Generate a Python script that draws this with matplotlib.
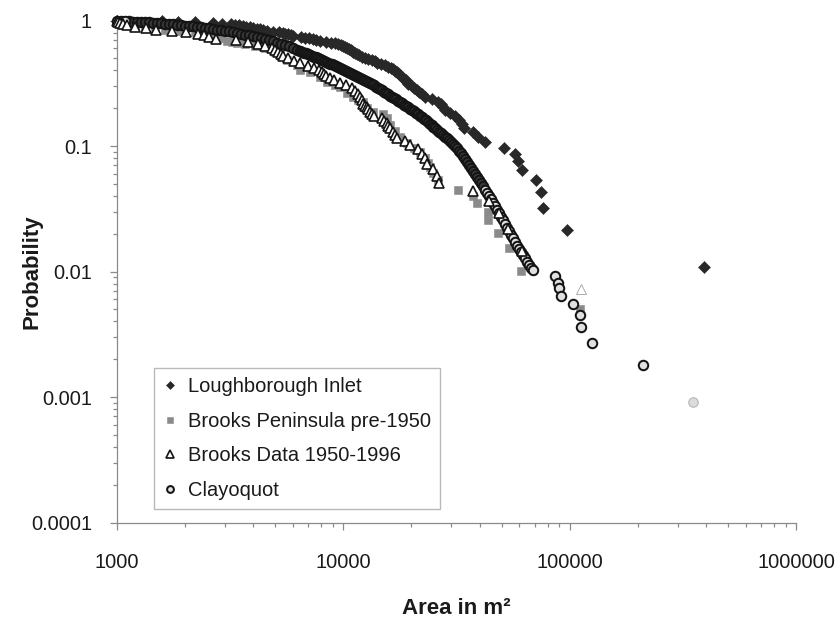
import matplotlib
matplotlib.use("Agg")
import matplotlib.pyplot as plt
from matplotlib.ticker import LogLocator, NullFormatter, FixedLocator, FixedFormatter

plt.rcParams['font.family'] = ['Liberation Sans', 'DejaVu Sans']

# ---------------- data (area in m^2, exceedance probability) ----------------
lough_area = [1000, 1580, 1860, 2210, 2652, 2907, 3187, 3319, 3457, 3600, 3711, 3866, 3986, 4147,
              4279, 4412, 4595, 4884, 5191, 5407, 5517, 5688, 5863, 5984, 6492, 6761, 7041, 7334,
              7560, 7874, 8368, 8805, 9171, 9455, 9748, 9949, 10150, 10358, 10571, 10789, 10899,
              11011, 11240, 11470, 11707, 12073, 12440, 12826, 13359, 13780, 14062, 14638, 15250,
              15723, 16214, 16548, 16880, 17226, 17580, 17760, 18124, 18497, 18881, 19073, 19261,
              20063, 20481, 21114, 21550, 22216, 22900, 24594, 26136, 26942, 27497, 28060, 29530,
              31070, 32360, 33350, 34036, 37302, 39250, 42150, 51127, 57180, 58953, 61382, 70785,
              74462, 75995, 96990, 390500]
lough_prob = [1.000, 0.989, 0.978, 0.968, 0.957, 0.946, 0.935, 0.925, 0.914, 0.903, 0.892, 0.882,
              0.871, 0.860, 0.849, 0.839, 0.828, 0.817, 0.806, 0.796, 0.785, 0.774, 0.763, 0.753,
              0.742, 0.731, 0.720, 0.710, 0.699, 0.688, 0.677, 0.667, 0.656, 0.645, 0.634, 0.624,
              0.613, 0.602, 0.591, 0.581, 0.570, 0.559, 0.548, 0.538, 0.527, 0.516, 0.505, 0.495,
              0.484, 0.473, 0.462, 0.452, 0.441, 0.430, 0.419, 0.409, 0.398, 0.387, 0.376, 0.366,
              0.355, 0.344, 0.333, 0.323, 0.312, 0.301, 0.290, 0.280, 0.269, 0.258, 0.247, 0.237,
              0.226, 0.215, 0.204, 0.194, 0.183, 0.172, 0.161, 0.151, 0.140, 0.129, 0.118, 0.108,
              0.0968, 0.0860, 0.0753, 0.0645, 0.0538, 0.0430, 0.0323, 0.0215, 0.0108]

pre1950_area = [1000, 1021, 1085, 1201, 1329, 1472, 1629, 1897, 2210, 2447, 2627, 2849, 3059, 3220,
                3387, 3674, 4068, 4503, 4984, 5244, 5630, 6232, 6426, 7112, 7874, 8454, 9171, 9650,
                10358, 11011, 11589, 12197, 12695, 13496, 14939, 15563, 16050, 16880, 17760, 19073,
                20476, 21770, 22900, 23610, 24100, 24847, 26136, 32033, 37302, 38850, 43457, 43457,
                48106, 53793, 60766, 110700]
pre1950_prob = [0.991, 0.973, 0.938, 0.904, 0.872, 0.856, 0.840, 0.825, 0.810, 0.781, 0.752, 0.726,
                0.687, 0.674, 0.662, 0.650, 0.626, 0.604, 0.561, 0.531, 0.4845, 0.442, 0.403, 0.389,
                0.354, 0.324, 0.306, 0.295, 0.264, 0.246, 0.233, 0.224, 0.201, 0.187, 0.180, 0.167,
                0.147, 0.131, 0.118, 0.1056, 0.0964, 0.0902, 0.0803, 0.0732, 0.0683, 0.0610, 0.0536,
                0.0446, 0.0403, 0.0351, 0.0298, 0.0257, 0.0203, 0.0154, 0.0101, 0.00503]

brooks_area = [1000, 1010, 1031, 1063, 1108, 1201, 1343, 1487, 1749, 2016, 2278, 2422, 2547, 2736,
               3353, 3788, 4194, 4503, 4835, 4984, 5139, 5297, 5407, 5688, 6046, 6426, 6969, 7407,
               7794, 8033, 8197, 8365, 8712, 9072, 9642, 10247, 10890, 11240, 11573, 11811, 12053,
               12197, 12440, 12695, 12810, 13072, 13340, 13614, 14765, 15068, 15563, 15692, 16013,
               16548, 16880, 17226, 18690, 19617, 21276, 22157, 22900, 23311, 24847, 25869, 26597,
               37302, 43899, 48598, 53251, 61382, 111800]
brooks_prob = [1.0, 0.978, 0.957, 0.935, 0.913, 0.891, 0.870, 0.848, 0.826, 0.804, 0.783, 0.761,
               0.739, 0.717, 0.696, 0.674, 0.652, 0.630, 0.609, 0.587, 0.565, 0.543, 0.522, 0.500,
               0.478, 0.457, 0.435, 0.420, 0.406, 0.391, 0.377, 0.362, 0.348, 0.333, 0.319, 0.304,
               0.290, 0.275, 0.261, 0.246, 0.232, 0.217, 0.210, 0.203, 0.196, 0.188, 0.181, 0.174,
               0.167, 0.159, 0.152, 0.145, 0.138, 0.130, 0.123, 0.116, 0.109, 0.101, 0.0942, 0.0870,
               0.0797, 0.0725, 0.0652, 0.0580, 0.0507, 0.0435, 0.0362, 0.0290, 0.0217, 0.0145,
               0.00725]

clay_area = [1000, 1041, 1085, 1130, 1176, 1225, 1276, 1329, 1384, 1441, 1501, 1564, 1629, 1696,
             1766, 1840, 1916, 1996, 2078, 2165, 2254, 2348, 2445, 2547, 2652, 2762, 2877, 2996,
             3120, 3250, 3384, 3525, 3671, 3823, 3982, 4147, 4319, 4498, 4685, 4879, 5082, 5292,
             5512, 5741, 5979, 6227,
             6426, 6558, 6692, 6829, 6969, 7112, 7258, 7407, 7558, 7713, 7871, 8033, 8197, 8365,
             8537, 8712, 8890, 9072, 9258, 9448, 9642, 9839, 10041, 10247, 10457, 10671, 10890,
             11113, 11341, 11573, 11811, 12053, 12300, 12552, 12810, 13072, 13340, 13614, 13893,
             14178, 14468, 14765, 15068, 15376, 15692, 16013, 16342, 16677, 17019, 17368, 17724,
             18087, 18458, 18836, 19223, 19617, 20019, 20429, 20848, 21276, 21712, 22157, 22611,
             23075, 23548, 24031, 24523, 25026, 25539, 26063, 26597, 27142, 27699, 28267, 28846,
             29438, 30041, 30657, 31286, 31927, 32582, 33250, 33931, 34627, 35337, 36061, 36801,
             37555, 38325, 39111, 39913, 40731, 41566, 42418, 43288, 44175, 45081, 46005, 46948,
             47911, 48893, 49895, 50918, 51962, 53027, 54114, 55224, 56356, 57511, 58690, 59893,
             61121, 62374, 63653, 64958, 66289, 67648, 68660,
             85900, 88500, 89400, 91200, 103000, 110700, 111900, 125100, 210000, 349000]
clay_prob = [1.0, 0.9882, 0.9854, 0.9827, 0.9791, 0.9755, 0.9720, 0.9684, 0.9648, 0.9604, 0.9552,
             0.9499, 0.9447, 0.9395, 0.9327, 0.9258, 0.9191, 0.9124, 0.9058, 0.8975, 0.8892,
             0.8811, 0.8731, 0.8651, 0.8556, 0.8478, 0.8384, 0.8293, 0.8202, 0.8083, 0.7965,
             0.7850, 0.7736, 0.7624, 0.7499, 0.7363, 0.7229, 0.7096, 0.6966, 0.6815, 0.6666,
             0.6523, 0.6381, 0.6242, 0.6044, 0.5848,
             0.5715, 0.5631, 0.5549, 0.5468, 0.5389, 0.5310, 0.5233, 0.5157, 0.5082, 0.5007,
             0.4934, 0.4854, 0.4775, 0.4696, 0.4619, 0.4544, 0.4469, 0.4395, 0.4324, 0.4253,
             0.4183, 0.4115, 0.4048, 0.3981, 0.3916, 0.3852, 0.3782, 0.3713, 0.3645, 0.3579,
             0.3514, 0.3444, 0.3375, 0.3308, 0.3242, 0.3177, 0.3108, 0.3040, 0.2974, 0.2909,
             0.2845, 0.2778, 0.2713, 0.2649, 0.2586, 0.2526, 0.2466, 0.2408, 0.2351, 0.2296,
             0.2242, 0.2189, 0.2137, 0.2087, 0.2037, 0.1989, 0.1939, 0.1890, 0.1842, 0.1795,
             0.1750, 0.1699, 0.1650, 0.1602, 0.1556, 0.1511, 0.1467, 0.1425, 0.1384, 0.1344,
             0.1305, 0.1265, 0.1226, 0.1188, 0.1151, 0.1116, 0.1074, 0.1033, 0.0995, 0.0957,
             0.0921, 0.0873, 0.0828, 0.0785, 0.0744, 0.0706, 0.0668, 0.0632, 0.0598, 0.0566,
             0.0536, 0.0505, 0.0477, 0.0449, 0.0424, 0.0400, 0.0375, 0.0351, 0.0330, 0.0309,
             0.0290, 0.0272, 0.0255, 0.0239, 0.0224, 0.0210, 0.0197, 0.0184, 0.0172, 0.0161,
             0.0151, 0.0143, 0.0135, 0.0127, 0.0120, 0.0113, 0.0106, 0.0103,
             0.0092, 0.0081, 0.0074, 0.0064, 0.0055, 0.0045, 0.0036, 0.0027, 0.0018, 0.00091]

series_labels = ['Loughborough Inlet', 'Brooks Peninsula pre-1950', 'Brooks Data 1950-1996', 'Clayoquot']
x_ticks = [1e3, 1e4, 1e5, 1e6]
x_tick_labels = ['1000', '10000', '100000', '1000000']
y_ticks = [1e-4, 1e-3, 1e-2, 1e-1, 1]
y_tick_labels = ['0.0001', '0.001', '0.01', '0.1', '1']

# ---------------- figure ----------------
fig = plt.figure(figsize=(8.35, 6.18), dpi=100)
ax = fig.add_axes([0.1401, 0.1545, 0.8132, 0.8123])
ax.set_xscale('log')
ax.set_yscale('log')
ax.set_xlim(1e3, 1e6)
ax.set_ylim(1e-4, 1)

edge = '#141414'
h1, = ax.plot(lough_area, lough_prob, ls='none', marker='D', ms=5.8, mfc='#282828', mec='#282828',
              mew=0.4, clip_on=False, zorder=3)
h2, = ax.plot(pre1950_area, pre1950_prob, ls='none', marker='s', ms=6.3, mfc='#8a8a8a', mec='#8a8a8a',
              mew=0.4, clip_on=False, zorder=4)

# Clayoquot: the dense part of the curve (heavily overlapping markers) renders much darker
n_clay = len(clay_area) - 1
dense = [i for i in range(n_clay) if 0.045 <= clay_prob[i] < 0.985]
light = [i for i in range(n_clay) if i not in dense]
ax.plot([clay_area[i] for i in dense], [clay_prob[i] for i in dense], ls='none', marker='o', ms=6.8,
        mfc='#3a3a3a', mec=edge, mew=1.45, clip_on=False, zorder=5)
h4, = ax.plot([clay_area[i] for i in light], [clay_prob[i] for i in light], ls='none', marker='o',
              ms=6.8, mfc='#e0e0e0', mec=edge, mew=1.45, clip_on=False, zorder=5)
ax.plot(clay_area[-1:], clay_prob[-1:], ls='none', marker='o', ms=6.8, mfc='#dcdcdc', mec='#b5b5b5',
        mew=0.8, clip_on=False, zorder=5)
h3, = ax.plot(brooks_area[:-1], brooks_prob[:-1], ls='none', marker='^', ms=7.4, mfc='white', mec=edge,
              mew=1.2, clip_on=False, zorder=6)
ax.plot(brooks_area[-1:], brooks_prob[-1:], ls='none', marker='^', ms=7.4, mfc='white', mec='#a0a0a0',
        mew=0.6, clip_on=False, zorder=6)

# axes styling
for s in ['top', 'right']:
    ax.spines[s].set_visible(False)
for s in ['left', 'bottom']:
    ax.spines[s].set_color('#8a8a8a')
    ax.spines[s].set_linewidth(0.9)

ax.xaxis.set_major_locator(FixedLocator(x_ticks))
ax.xaxis.set_major_formatter(FixedFormatter(x_tick_labels))
ax.yaxis.set_major_locator(FixedLocator(y_ticks))
ax.yaxis.set_major_formatter(FixedFormatter(y_tick_labels))
ax.xaxis.set_minor_locator(LogLocator(base=10, subs=range(2, 10), numticks=20))
ax.yaxis.set_minor_locator(LogLocator(base=10, subs=range(2, 10), numticks=20))
ax.xaxis.set_minor_formatter(NullFormatter())
ax.yaxis.set_minor_formatter(NullFormatter())

ax.tick_params(axis='both', which='major', direction='out', length=5, width=0.9, color='#8a8a8a',
               labelsize=14.4, labelcolor='#1a1a1a')
ax.tick_params(axis='both', which='minor', direction='out', length=3.2, width=0.9, color='#8a8a8a')
ax.tick_params(axis='x', which='major', pad=17)
ax.tick_params(axis='y', which='major', pad=13)

ax.set_xlabel('Area in m\u00b2', fontsize=16, fontweight='bold', color='#1a1a1a')
ax.set_ylabel('Probability', fontsize=16, fontweight='bold', color='#1a1a1a')
ax.xaxis.set_label_coords(0.5, -0.15)
ax.yaxis.set_label_coords(-0.11, 0.5)

leg = ax.legend([h1, h2, h3, h4], series_labels, loc='upper left',
                bbox_to_anchor=((154 - 117) / 679, (522.5 - 368) / 502), bbox_transform=ax.transAxes,
                frameon=True, fancybox=False, edgecolor='#a8a8a8', fontsize=14.5, borderpad=0.45,
                labelspacing=0.78, handlelength=0.7, handletextpad=0.55, markerscale=0.72,
                borderaxespad=0)
leg.get_frame().set_linewidth(1.0)
for t in leg.get_texts():
    t.set_color('#1a1a1a')

fig.savefig('out.png', dpi=100)
